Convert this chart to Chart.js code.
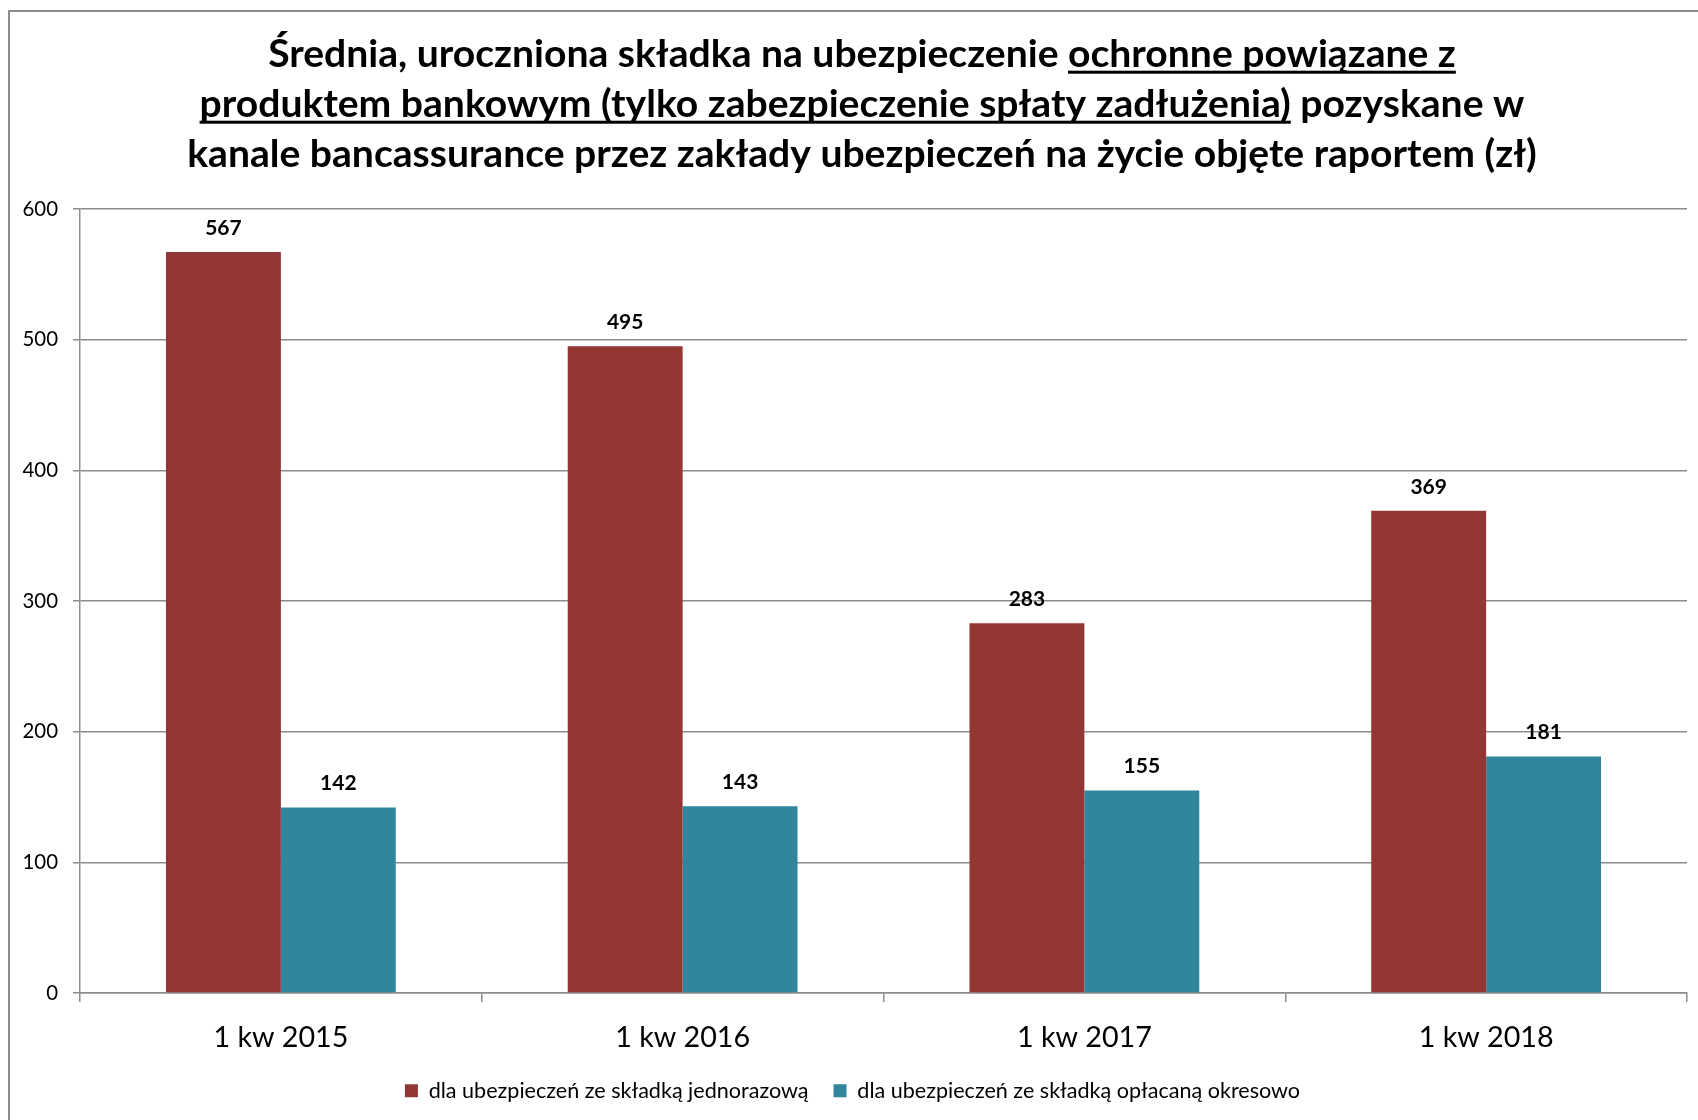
<!DOCTYPE html>
<html><head><meta charset="utf-8">
<script src="https://cdn.jsdelivr.net/npm/chart.js@4.4.1/dist/chart.umd.min.js"></script>
<style>html,body{margin:0;padding:0;background:#fff;overflow:hidden}#wrap{width:1698px;height:1120px;position:relative}canvas{display:block}</style>
</head><body><div id="wrap"><canvas id="c" width="1698" height="1120"></canvas></div>
<script>
// ---- data ----
const categories = ['1 kw 2015', '1 kw 2016', '1 kw 2017', '1 kw 2018'];
const singlePremium = [567, 495, 283, 369];
const periodicPremium = [142, 143, 155, 181];
const seriesNames = ['dla ubezpieczeń ze składką jednorazową', 'dla ubezpieczeń ze składką opłacaną okresowo'];
const yTickMin = 0;
const yTickMax = 600;
const yTickStep = 100;
const titleLines = [
  'Średnia, uroczniona składka na ubezpieczenie ochronne powiązane z',
  'produktem bankowym (tylko zabezpieczenie spłaty zadłużenia) pozyskane w',
  'kanale bancassurance przez zakłady ubezpieczeń na życie objęte raportem (zł)'
];
const underlinedParts = ['ochronne powiązane z', 'produktem bankowym (tylko zabezpieczenie spłaty zadłużenia)', null];

// ---- styling ----
const FAMILY = 'Lato';
const gridColor = '#8c8c8c';
const colors = ['#943634', '#31859C'];
const mctx = document.createElement('canvas').getContext('2d');
function fitSize(text, weight, target) {
  mctx.font = weight + ' 100px ' + FAMILY;
  return 100 * target / mctx.measureText(text).width;
}
const titleSize = fitSize(titleLines[2], 'bold', 1350);
const catSize = fitSize(categories[0], 'normal', 135);
const tickSize = fitSize('600', 'normal', 35.6);
const valSize = fitSize('567', 'bold', 36.5);
const legSize = fitSize(seriesNames[0], 'normal', 380);
const titleCenterX = 862;
const titleBaselines = [66.7, 116.7, 166.7];
const plotTop = 209;
const plotBottom = 993;
const xAxisH = 62;
const legPad = 25;
const legH = legSize + legPad + 10;
const padBottom = 1120 - plotBottom - xAxisH - legH;

const framePlugin = {
  id: 'frame',
  beforeDraw(chart) {
    const ctx = chart.ctx;
    ctx.save();
    ctx.fillStyle = '#fff';
    ctx.fillRect(0, 0, chart.width, chart.height);
    ctx.strokeStyle = '#8c8c8c';
    ctx.lineWidth = 2;
    ctx.beginPath();
    ctx.moveTo(9, chart.height + 5);
    ctx.lineTo(9, 11);
    ctx.lineTo(chart.width + 5, 11);
    ctx.stroke();
    ctx.restore();
  }
};

const titlePlugin = {
  id: 'underlinedTitle',
  afterDraw(chart) {
    const ctx = chart.ctx;
    ctx.save();
    ctx.font = 'bold ' + titleSize + 'px ' + FAMILY;
    ctx.fillStyle = '#000';
    ctx.textAlign = 'left';
    ctx.textBaseline = 'alphabetic';
    titleLines.forEach((line, i) => {
      const W = ctx.measureText(line).width;
      const x0 = titleCenterX - W / 2;
      const yb = titleBaselines[i];
      ctx.fillText(line, x0, yb);
      const part = underlinedParts[i];
      if (!part) return;
      const idx = line.indexOf(part);
      const pre = ctx.measureText(line.slice(0, idx)).width;
      const pw = ctx.measureText(part).width;
      ctx.fillRect(x0 + pre, yb + 4, pw, 3);
    });
    ctx.restore();
  }
};

const valueLabelPlugin = {
  id: 'valueLabels',
  afterDatasetsDraw(chart) {
    const ctx = chart.ctx;
    ctx.save();
    ctx.font = 'bold ' + valSize + 'px ' + FAMILY;
    ctx.fillStyle = '#000';
    ctx.textAlign = 'center';
    ctx.textBaseline = 'middle';
    chart.data.datasets.forEach((ds, di) => {
      chart.getDatasetMeta(di).data.forEach((bar, i) => {
        ctx.fillText(String(ds.data[i]), bar.x, bar.y - 24);
      });
    });
    ctx.restore();
  }
};

new Chart(document.getElementById('c'), {
  type: 'bar',
  data: {
    labels: categories,
    datasets: [
      { label: seriesNames[0], data: singlePremium, backgroundColor: colors[0], borderWidth: 0 },
      { label: seriesNames[1], data: periodicPremium, backgroundColor: colors[1], borderWidth: 0 }
    ]
  },
  options: {
    responsive: false,
    devicePixelRatio: 1,
    animation: false,
    layout: { padding: { left: 18, right: 11, top: plotTop, bottom: padBottom } },
    datasets: { bar: { categoryPercentage: 0.572, barPercentage: 1.0 } },
    plugins: {
      title: { display: false },
      legend: {
        position: 'bottom',
        labels: {
          boxWidth: 13, boxHeight: 13, padding: legPad,
          color: '#000',
          font: { family: FAMILY, size: legSize }
        }
      },
      tooltip: { enabled: false }
    },
    scales: {
      x: {
        offset: true,
        grid: { offset: true, drawOnChartArea: false, tickLength: 9, color: gridColor, lineWidth: 1.5 },
        border: { color: gridColor, width: 1.5 },
        ticks: { color: '#000', font: { family: FAMILY, size: catSize }, padding: 19, maxRotation: 0, autoSkip: false },
        afterFit(s) { s.height = xAxisH; }
      },
      y: {
        min: yTickMin, max: yTickMax,
        grid: { color: gridColor, lineWidth: 1.5, tickLength: 7 },
        border: { color: gridColor, width: 1.5 },
        ticks: { stepSize: yTickStep, color: '#000', font: { family: FAMILY, size: tickSize }, padding: 15 },
        afterFit(s) { s.width = 80 - 18; }
      }
    }
  },
  plugins: [framePlugin, titlePlugin, valueLabelPlugin]
});
</script>
</body></html>
